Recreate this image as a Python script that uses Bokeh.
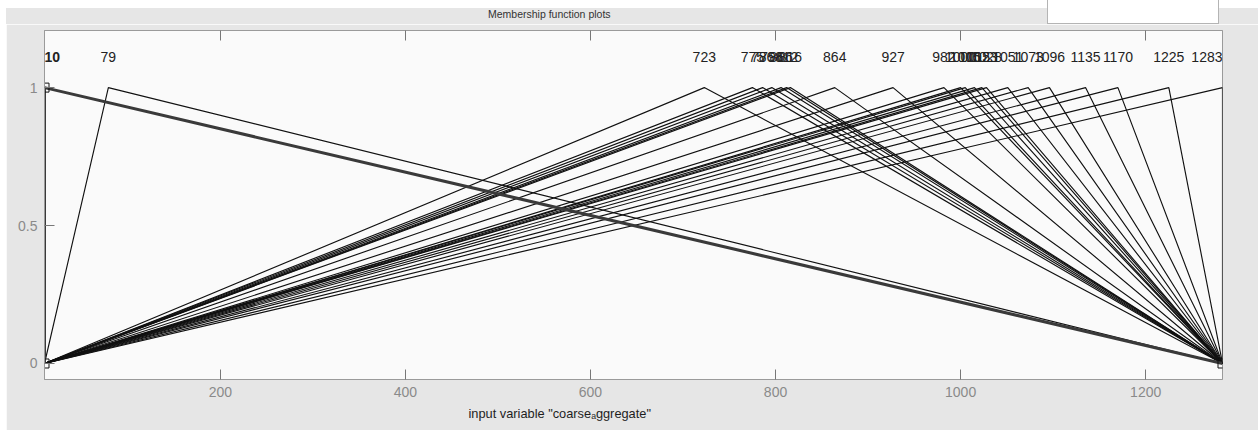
from bokeh.plotting import figure
from bokeh.models import (Range1d, FixedTicker, LinearAxis, LabelSet, Title,
                          ColumnDataSource, Spacer, Div)
from bokeh.layouts import column, row
from bokeh.core.properties import value
from bokeh.embed import file_html
from bokeh.resources import INLINE

# ---- data ----
x_min, x_max = 10, 1283
mf_names = ["10", "79", "723", "775", "786", "796", "806", "812", "816", "864", "927",
            "982", "1000", "1005", "1015", "1023", "1028", "1051", "1073", "1096",
            "1135", "1170", "1225", "1283"]
mf_left = [10] * len(mf_names)
mf_peak = [10, 79, 723, 775, 786, 796, 806, 812, 816, 864, 927,
           982, 1000, 1005, 1015, 1023, 1028, 1051, 1073, 1096,
           1135, 1170, 1225, 1283]
mf_right = [1283] * len(mf_names)
selected = 0
x_ticks = [200, 400, 600, 800, 1000, 1200]
y_ticks = [0, 0.5, 1]
y_tick_labels = {0: "0", 0.5: "0.5", 1: "1"}
title_text = "Membership function plots"
xlabel_text = "input variable \"coarse\u2090ggregate\""

FONT = "Liberation Sans"
AXC = "#9a9a9a"
GRAY_BG = "#e6e6e6"

p = figure(width=1252, height=406, output_backend="svg", toolbar_location=None,
           x_range=Range1d(x_min, x_max), y_range=Range1d(-0.058, 1.207),
           min_border_left=38, min_border_right=36, min_border_top=6, min_border_bottom=51,
           background_fill_color="#fafafa", border_fill_color=GRAY_BG, margin=0)
p.grid.visible = False
p.outline_line_color = AXC

# axes
for ax in (p.xaxis[0], p.yaxis[0]):
    ax.major_tick_in = 10
    ax.major_tick_out = 0
    ax.minor_tick_line_color = None
    ax.axis_line_color = AXC
    ax.major_tick_line_color = "#777777"
    ax.major_label_text_color = "#8a8a8a"
    ax.major_label_text_font = FONT
    ax.major_label_text_font_size = "14px"
    ax.major_label_standoff = 7
p.xaxis[0].ticker = FixedTicker(ticks=x_ticks)
p.yaxis[0].ticker = FixedTicker(ticks=y_ticks)
p.yaxis[0].major_label_overrides = y_tick_labels

top = LinearAxis(ticker=FixedTicker(ticks=x_ticks), major_tick_in=10, major_tick_out=0,
                 minor_tick_line_color=None, axis_line_color=AXC,
                 major_tick_line_color="#777777", major_label_standoff=0,
                 major_label_text_font_size="1px",
                 major_label_overrides={t: "" for t in x_ticks})
p.add_layout(top, "above")

# x label (below)
p.add_layout(Title(text=xlabel_text, align="left", offset=424, standoff=8,
                   text_font=FONT, text_font_size="12.8px", text_font_style="normal",
                   text_color="#1e1e1e"), "below")

# membership functions
xs = [[l, m, r] for l, m, r in zip(mf_left, mf_peak, mf_right)]
ys = [[0, 1, 0] for _ in mf_peak]
others = [i for i in range(len(xs)) if i != selected]
p.multi_line(xs=[xs[i] for i in others], ys=[ys[i] for i in others],
             line_color="#111111", line_width=1.15)
p.line(x=xs[selected], y=ys[selected], line_color="#3a3a3a", line_width=3)
p.scatter(x=xs[selected], y=ys[selected], marker="square", size=9,
          fill_color=None, line_color="#111111", line_width=1)

# MF labels (kept inside the frame at the range ends)
label_y = 1.11
groups = {"left": [], "center": [], "right": []}
for i, pk in enumerate(mf_peak):
    if pk == x_min:
        groups["left"].append(i)
    elif pk == x_max:
        groups["right"].append(i)
    else:
        groups["center"].append(i)
for align, idx in groups.items():
    if not idx:
        continue
    src = ColumnDataSource(dict(x=[mf_peak[i] for i in idx],
                                y=[label_y] * len(idx),
                                text=[mf_names[i] for i in idx]))
    bold = any(i == selected for i in idx)
    p.add_layout(LabelSet(x="x", y="y", text="text", source=src,
                          text_align=align, text_baseline="middle",
                          text_font=value(FONT), text_font_size="14px",
                          text_color="#222222",
                          text_font_style="bold" if bold else "normal"))

# top band of the window: white strip, title and an empty white field
band_bg = ("background:linear-gradient(to bottom,#ffffff 0px,#ffffff 8px,"
           f"{GRAY_BG} 8px,{GRAY_BG} 24px);")
title_div = Div(width=1047, height=24, margin=0, text=(
    f'<div style="position:relative;margin:0;padding:0;width:1047px;height:24px;{band_bg}">'
    '<div style="position:absolute;left:0;top:0;width:6px;height:24px;background:#ffffff"></div>'
    '<span style="position:absolute;left:488px;top:8px;font-family:\'Liberation Sans\';'
    'font-size:10.5px;line-height:13px;color:#333333;white-space:nowrap">'
    f'{title_text}</span></div>'))
field_div = Div(width=172, height=24, margin=0, text=(
    '<div style="margin:0;padding:0;width:172px;height:24px;box-sizing:border-box;'
    'background:#ffffff;border:1px solid #b4b4b4;border-top:none"></div>'))
right_div = Div(width=39, height=24, margin=0, text=(
    f'<div style="margin:0;padding:0;width:39px;height:24px;{band_bg}"></div>'))

layout = column(row(title_div, field_div, right_div, spacing=0, margin=0),
                row(Spacer(width=6, height=406, margin=0), p, spacing=0, margin=0),
                spacing=0, margin=0)

open("out.html", "w").write(file_html(layout, INLINE))
